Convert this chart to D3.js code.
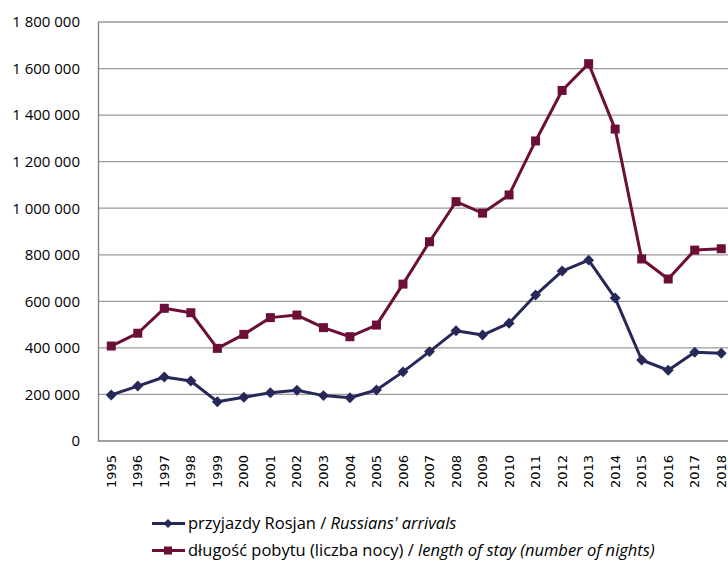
<!DOCTYPE html>
<html><head><meta charset="utf-8">
<script src="https://cdn.jsdelivr.net/npm/d3@7"></script>
<style>body{margin:0;background:#fff}svg{display:block}</style>
</head><body>
<script>
const years = ["1995","1996","1997","1998","1999","2000","2001","2002","2003","2004","2005","2006","2007","2008","2009","2010","2011","2012","2013","2014","2015","2016","2017","2018"];
const arrivals = [198000,236000,275000,258000,169000,188000,207000,218000,195000,186000,219000,297000,384000,474000,455000,506000,627000,730000,777000,614000,348000,304000,381000,377000];
const nights = [408000,463000,570000,551000,398000,458000,530000,541000,487000,448000,498000,674000,856000,1028000,979000,1057000,1289000,1506000,1621000,1340000,782000,696000,820000,826000];
const yTicks = [0,200000,400000,600000,800000,1000000,1200000,1400000,1600000,1800000];
const seriesNames = ["przyjazdy Rosjan / ", "długość pobytu (liczba nocy) / "];
const seriesItalic = ["Russians' arrivals", "length of stay (number of nights)"];

(function(){
const W = 728, H = 561;
const svg = d3.select("body").append("svg").attr("width", W).attr("height", H);
const pLeft = 98, pTop = 22, pBottom = 441, pRight = 734.5;
const x = d3.scaleBand().domain(years).range([pLeft, pRight]);
const y = d3.scaleLinear().domain([0, 1800000]).range([pBottom, pTop]);
const fmt = v => d3.format(",")(v).replace(/,/g, " ");
const sans = "'Open Sans', Lato, sans-serif";

// gridlines
svg.append("g").selectAll("line").data(yTicks.filter(d => d > 0)).join("line")
  .attr("x1", pLeft).attr("x2", W).attr("y1", d => y(d)).attr("y2", d => y(d))
  .attr("stroke", "#9a9a9a").attr("stroke-width", 1.3);

// y axis
const yAxis = svg.append("g").attr("transform", `translate(${pLeft},0)`)
  .call(d3.axisLeft(y).tickValues(yTicks).tickFormat(fmt).tickSize(0).tickPadding(18));
yAxis.select(".domain").attr("stroke", "#7f7f7f").attr("stroke-width", 1.3);
yAxis.selectAll("text").attr("font-family", sans).attr("font-size", 15).attr("fill", "#000");

// x axis
const xAxis = svg.append("g").attr("transform", `translate(0,${pBottom})`)
  .call(d3.axisBottom(x).tickSize(0).tickPadding(0));
xAxis.select(".domain").attr("stroke", "#7f7f7f").attr("stroke-width", 1.3).attr("d", `M${pLeft},0H${W}`);
xAxis.selectAll("text")
  .attr("font-family", "'DejaVu Sans', sans-serif").attr("font-size", 13).attr("fill", "#000")
  .attr("transform", "rotate(-90)").attr("text-anchor", "end")
  .attr("x", -14).attr("y", 0).attr("dy", "0.35em");

const cx = d => x(d) + x.bandwidth() / 2;
const colors = ["#252858", "#6c0f38"];
const line = d3.line().x((d, i) => cx(years[i])).y(d => y(d));

function drawSeries(data, color, shape) {
  svg.append("path").datum(data).attr("d", line).attr("fill", "none")
    .attr("stroke", color).attr("stroke-width", 3).attr("stroke-linejoin", "round");
  const g = svg.append("g");
  if (shape === "diamond") {
    g.selectAll("path").data(data).join("path")
      .attr("d", d3.symbol(d3.symbolSquare, 60)())
      .attr("transform", (d, i) => `translate(${cx(years[i])},${y(d)}) rotate(45)`)
      .attr("fill", color);
  } else {
    g.selectAll("rect").data(data).join("rect")
      .attr("x", (d, i) => cx(years[i]) - 4.5).attr("y", d => y(d) - 4.5)
      .attr("width", 9).attr("height", 9).attr("fill", color);
  }
}
drawSeries(arrivals, colors[0], "diamond");
drawSeries(nights, colors[1], "square");

// legend
const legY = [523.5, 550.5];
[0, 1].forEach(i => {
  const g = svg.append("g");
  g.append("line").attr("x1", 152).attr("x2", 185).attr("y1", legY[i]).attr("y2", legY[i])
    .attr("stroke", colors[i]).attr("stroke-width", 3);
  if (i === 0) {
    g.append("path").attr("d", d3.symbol(d3.symbolSquare, 40)())
      .attr("transform", `translate(168,${legY[i]}) rotate(45)`).attr("fill", colors[i]);
  } else {
    g.append("rect").attr("x", 164).attr("y", legY[i] - 4).attr("width", 8).attr("height", 8).attr("fill", colors[i]);
  }
  const t = g.append("text").attr("x", 188).attr("y", legY[i]).attr("dy", "0.35em")
    .attr("font-family", sans).attr("font-size", 16.5).attr("fill", "#000");
  t.append("tspan").text(seriesNames[i]);
  t.append("tspan").attr("font-style", "italic").text(seriesItalic[i]);
});
})();
</script>
</body></html>
